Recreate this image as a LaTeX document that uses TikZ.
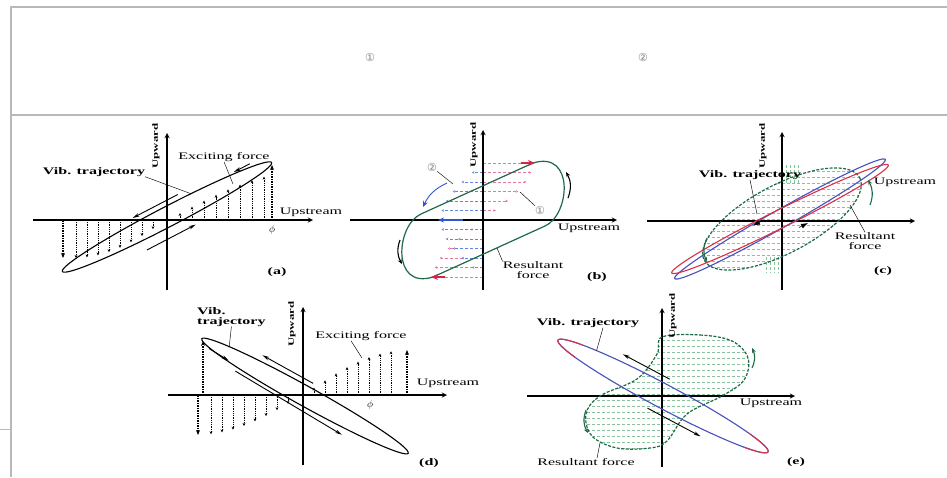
\documentclass[tikz,border=0pt]{standalone}
\usepackage{fontspec}
\setmainfont{Liberation Serif}[FakeStretch=1.6]
\newfontfamily\circfont{DejaVu Sans}
\usetikzlibrary{arrows, arrows.meta, calc}

\definecolor{frame}{RGB}{185,185,185}
\definecolor{resgreen}{RGB}{30,105,70}
\definecolor{lightgreen}{RGB}{135,195,155}
\definecolor{pinkdash}{RGB}{230,120,165}
\definecolor{forcered}{RGB}{215,35,75}
\definecolor{forceblue}{RGB}{45,85,210}
\definecolor{lightblue}{RGB}{95,135,220}
\definecolor{trajred}{RGB}{215,50,70}
\definecolor{trajblue}{RGB}{70,80,190}

\begin{document}
\begin{tikzpicture}[
        x=1pt, y=-1pt,
        axisline/.style={line width=1.3pt, ->, >=stealth},
        traj/.style={line width=1.1pt},
        force/.style={densely dotted, line width=0.8pt, -{Stealth[length=3pt, width=2.8pt]}},
        mainforce/.style={densely dotted, line width=1.5pt, -{Stealth[length=5pt, width=4pt]}},
        motion/.style={line width=0.9pt, -{Stealth[length=7pt, width=3.5pt]}},
        pin/.style={line width=0.6pt, -{Latex[length=7pt, width=5pt]}},
        turn/.style={line width=1.1pt, -{Stealth[length=5pt, width=4pt]}},
        gturn/.style={turn, resgreen},
        pinkline/.style={pinkdash, densely dashed, line width=0.7pt, -{Stealth[length=2.5pt, width=2.5pt]}},
        blueline/.style={lightblue, densely dashed, line width=0.7pt, -{Stealth[length=2.5pt, width=2.5pt]}},
        redtip/.style={forcered, line width=1.3pt, -{Stealth[length=7pt, width=6pt]}},
        bluetip/.style={forceblue, line width=1.3pt, -{Stealth[length=6pt, width=5pt]}},
        greenline/.style={lightgreen, dash pattern=on 3pt off 2pt, line width=0.7pt},
        resloop/.style={resgreen, line width=1.2pt},
        resdash/.style={resgreen, dash pattern=on 3pt off 1.5pt, line width=1.2pt},
        leader/.style={line width=0.45pt},
        lbl/.style={inner sep=0pt, font=\fontsize{10}{10}\selectfont},
        blbl/.style={inner sep=0pt, font=\fontsize{10}{10}\selectfont\bfseries},
        uplbl/.style={inner sep=0pt, rotate=90, font=\fontsize{8}{8}\selectfont\bfseries},
        tag/.style={inner sep=0pt, font=\fontsize{10}{10}\selectfont\bfseries},
        circ/.style={inner sep=0pt, text=gray, font=\circfont\fontsize{11}{12}\selectfont}
    ]

    \useasboundingbox (0,0) rectangle (947,477);
    \fill[white] (0,0) rectangle (947,477);

    % --- FRAME ---
    \draw[frame, line width=1.6pt] (11,477) -- (11,7) -- (947,7);
    \draw[frame, line width=1.2pt] (11,115) -- (947,115);
    \draw[frame, line width=1pt] (0,429) -- (11,429);
    \node[circ] (head1) at (370,57) {①};
    \node[circ] (head2) at (643,57) {②};

    % --- PANEL (a) ---
    \begin{scope}[shift={(167,220)}]
        \foreach \x in {-91,-80,...,-14}
            \draw[force] (\x,0) -- (\x,{38*sin(abs(\x))});
        \foreach \x in {13,25,...,97}
            \draw[force] (\x,0) -- (\x,{-50*sin(0.62*\x)});
        \draw[mainforce] (-104,0) -- (-104,38);
        \draw[mainforce] (105,0) -- (105,-55);
        \draw[axisline] (-134,0) -- (146,0);
        \draw[axisline] (0,70) -- (0,-87);
        \begin{scope}[shift={(0,-3)}, rotate=27.5]
            \draw[traj] (0,0) ellipse [x radius=118, y radius=10];
            \draw[motion] (20,-15) -- (-31,-15);
            \draw[motion] (98,-9) -- (80,-9);
            \draw[motion] (-33,20) -- (22,20);
            \coordinate (a-edge) at (32,-9.6);
        \end{scope}
        \coordinate (a-tip) at (66,-36);
        \node[uplbl] (a-up) at (-11,-74) {Upward};
        \node[lbl] (a-us) at (144,-8) {Upstream};
        \node[blbl] (a-vib) at (-73,-48) {Vib. trajectory};
        \node[lbl] (a-ex) at (57,-63) {Exciting force};
        \node[lbl] (a-phi) at (105,10) {$\phi$};
        \node[tag] (a-tag) at (110,52) {(a)};
        \draw[leader] (a-vib.south east) -- (a-edge);
        \draw[leader] (a-ex.south) -- (a-tip);
    \end{scope}

    % --- PANEL (b) ---
    \begin{scope}[shift={(483,220)}]
        \foreach \k [evaluate=\k as \yy using 9.5*\k,
                     evaluate=\k as \xa using -50*sin(15*\k),
                     evaluate=\k as \xb using -43*cos(15*\k)] in {-5,...,-1,1,2,...,5} {
            \draw[pinkline] (0,\yy) -- (\xa,\yy);
            \draw[blueline] (0,\yy) -- (\xb,\yy);
        }
        \draw[pinkline] (0,-57) -- (40,-57);
        \draw[pinkline] (0,57) -- (-40,57);
        \draw[axisline] (-133,0) -- (134,0);
        \draw[axisline] (0,70) -- (0,-90);
        \draw[resloop] (-62,-6) -- (50,-57) .. controls (92,-70) and (87,-5) .. (62,6)
            -- (-50,57) .. controls (-92,70) and (-87,5) .. (-62,-6) -- cycle;
        \draw[redtip] (38,-57) -- (52,-57);
        \draw[redtip] (-38,57) -- (-52,57);
        \draw[bluetip] (-20,0) -- (-45,0);
        \draw[bluetip, line width=0.9pt] (-36,-37) to[bend right=20] (-60,-13);
        \draw[turn] (85,-22) to[bend right=25] (83,-48);
        \draw[turn] (-83,20) to[bend right=25] (-81,44);
        \coordinate (b-p2) at (-30,-36);
        \coordinate (b-p1) at (37,-28);
        \coordinate (b-low) at (14,28);
        \node[uplbl] (b-up) at (-9,-75) {Upward};
        \node[lbl] (b-us) at (106,8) {Upstream};
        \node[circ] (b-c2) at (-51,-53) {②};
        \node[circ] (b-c1) at (57,-10) {①};
        \node[lbl, align=center] (b-res) at (50,50) {Resultant\\force};
        \node[tag] (b-tag) at (114,57) {(b)};
        \draw[leader] (b-c2.south east) -- (b-p2);
        \draw[leader] (b-c1.north west) -- (b-p1);
        \draw[leader] (b-res.north west) -- (b-low);
    \end{scope}

    % --- PANEL (c) ---
    \begin{scope}[shift={(782,221)}]
        \begin{scope}
            \clip[shift={(0,-2)}, rotate=28] (0,0) ellipse [x radius=88, y radius=34];
            \foreach \y in {-56,-50,...,56}
                \draw[greenline] (-100,\y) -- (100,\y);
        \end{scope}
        \foreach \x in {4,8,12,16}
            \draw[greenline] (\x,-56) -- (\x,-36);
        \foreach \x in {-4,-8,-12,-16}
            \draw[greenline] (\x,36) -- (\x,52);
        \draw[axisline] (-135,0) -- (133,0);
        \draw[axisline] (0,69) -- (0,-89);
        \draw[resdash, shift={(0,-2)}, rotate=28] (0,0) ellipse [x radius=88, y radius=34];
        \draw[traj, trajblue, shift={(-2,-2)}, rotate=29.5] (0,0) ellipse [x radius=121, y radius=9];
        \draw[traj, trajred, shift={(-2,-2)}, rotate=26.5] (0,0) ellipse [x radius=121, y radius=9];
        \draw[pin] (-20,0) -- (-29,4.5);
        \draw[pin] (17,6.5) -- (26,2);
        \draw[gturn] (-75,17) to[bend right=25] (-75,41);
        \draw[gturn] (88,-16) to[bend right=25] (86,-41);
        \coordinate (c-edge) at (-25,-7);
        \coordinate (c-loop) at (68,-16);
        \node[uplbl] (c-up) at (-19,-75) {Upward};
        \node[lbl] (c-us) at (123,-39) {Upstream};
        \node[blbl] (c-vib) at (-32,-46) {Vib. trajectory};
        \node[lbl, align=center] (c-res) at (83,20) {Resultant\\force};
        \node[tag] (c-tag) at (101,50) {(c)};
        \draw[leader] (c-vib.south) -- (c-edge);
        \draw[leader] (c-res.north) -- (c-loop);
    \end{scope}

    % --- PANEL (d) ---
    \begin{scope}[shift={(303,395)}]
        \foreach \x in {-92,-81,...,-15}
            \draw[force] (\x,0) -- (\x,{40*sin(0.86*abs(\x))});
        \foreach \x in {11,22,...,88}
            \draw[force] (\x,0) -- (\x,{-45*sin(0.87*\x)});
        \draw[mainforce] (-105,0) -- (-105,40);
        \draw[mainforce] (-100,0) -- (-100,-54);
        \draw[mainforce] (104,0) -- (104,-45);
        \draw[axisline] (-135,0) -- (144,0);
        \draw[axisline] (0,70) -- (0,-88);
        \begin{scope}[shift={(2,1)}, rotate=-29]
            \draw[traj] (0,0) ellipse [x radius=118, y radius=10];
            \draw[motion] (1,-15) -- (-57,-15);
            \draw[motion] (-107,5) -- (-84,6);
            \draw[motion] (-73,12) -- (51,16);
            \coordinate (d-edge) at (-90,-6);
        \end{scope}
        \coordinate (d-tip) at (59,-37);
        \node[uplbl] (d-up) at (-11,-71) {Upward};
        \node[lbl] (d-us) at (145,-12) {Upstream};
        \node[blbl, align=left, anchor=north west] (d-vib) at (-106,-88) {Vib.\\trajectory};
        \node[lbl] (d-ex) at (58,-59) {Exciting force};
        \node[lbl] (d-phi) at (67,10) {$\phi$};
        \node[tag] (d-tag) at (126,68) {(d)};
        \draw[leader] (d-vib.south) -- (d-edge);
        \draw[leader] ($(d-ex.south)+(-10,0)$) -- (d-tip);
    \end{scope}

    % --- PANEL (e) ---
    \begin{scope}[shift={(662,396)}]
        \begin{scope}
            \clip plot[smooth cycle, tension=0.6] coordinates {(0,-59) (38,-61) (70,-55) (86,-38) (82,-16)
                (60,0) (25,18) (5,45) (-12,52) (-45,52) (-70,40) (-76,18) (-62,0) (-25,-17) (-5,-42)};
            \foreach \y in {-62,-56,...,56}
                \draw[greenline] (-95,\y) -- (95,\y);
        \end{scope}
        \draw[axisline] (-135,0) -- (133,0);
        \draw[axisline] (0,71) -- (0,-88);
        \draw[resdash] plot[smooth cycle, tension=0.6] coordinates {(0,-59) (38,-61) (70,-55) (86,-38) (82,-16)
            (60,0) (25,18) (5,45) (-12,52) (-45,52) (-70,40) (-76,18) (-62,0) (-25,-17) (-5,-42)};
        \begin{scope}[shift={(1,0)}, rotate=-28]
            \draw[traj, trajblue] (0,0) ellipse [x radius=119, y radius=12];
            \draw[traj, trajred] plot[domain=-37:37, samples=30] ({119*cos(\x)}, {12*sin(\x)});
            \draw[traj, trajred] plot[domain=143:217, samples=30] ({119*cos(\x)}, {12*sin(\x)});
            \draw[motion] (-2,-18) -- (-55,-18);
            \draw[motion] (-8,18) -- (52,18);
            \coordinate (e-edge) at (-80,-9);
        \end{scope}
        \draw[gturn] (90,-28) to[bend right=25] (90,-48);
        \draw[gturn] (-76,14) to[bend right=25] (-74,37);
        \coordinate (e-loop) at (-62,47);
        \node[uplbl] (e-up) at (11,-80) {Upward};
        \node[lbl] (e-us) at (109,7) {Upstream};
        \node[blbl] (e-vib) at (-74,-73) {Vib. trajectory};
        \node[lbl] (e-res) at (-76,66) {Resultant force};
        \node[tag] (e-tag) at (134,66) {(e)};
        \draw[leader] ($(e-vib.south)+(15,0)$) -- (e-edge);
        \draw[leader] ($(e-res.north)+(11,0)$) -- (e-loop);
    \end{scope}

\end{tikzpicture}
\end{document}
